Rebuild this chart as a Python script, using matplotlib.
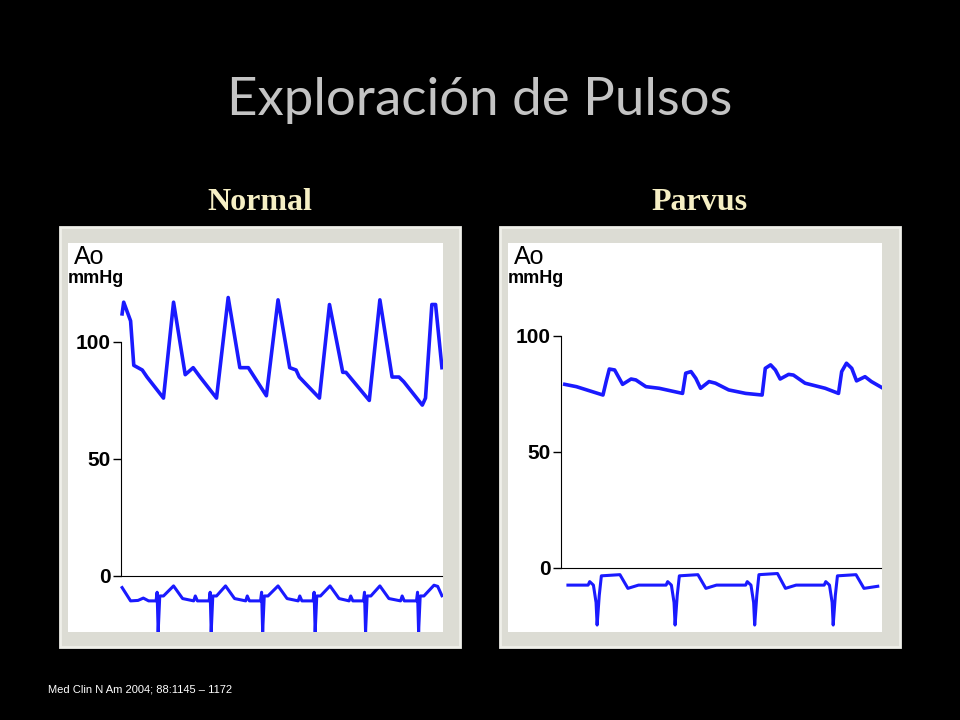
import matplotlib
matplotlib.use("Agg")
import matplotlib.pyplot as plt
from matplotlib.patches import Rectangle

# ---- data (time in s, pressure in mmHg) ----
normal_t = [0, 0.03, 0.16, 0.22, 0.38, 0.47, 0.78, 0.97, 1.19, 1.34, 1.47, 1.78, 2.0, 2.22, 2.38,
            2.72, 2.94, 3.16, 3.28, 3.34, 3.72, 3.91, 4.16, 4.22, 4.66, 4.86, 5.09, 5.22, 5.31,
            5.66, 5.72, 5.84, 5.91, 6.03]
normal_p = [112, 117, 109, 90, 88, 85, 76, 117, 86, 89, 85, 76, 119, 89, 89,
            77, 118, 89, 88, 85, 76, 116, 87, 87, 75, 118, 85, 85, 83,
            73, 76, 116, 116, 89]

normal_ecg_t = [0, 0.16, 0.3, 0.4, 0.5,
                0.64, 0.66, 0.68, 0.71, 0.78, 0.97, 1.14, 1.35, 1.38, 1.42,
                1.64, 1.66, 1.68, 1.71, 1.78, 1.95, 2.12, 2.33, 2.36, 2.40,
                2.61, 2.63, 2.65, 2.68, 2.75, 2.94, 3.11, 3.32, 3.35, 3.39,
                3.60, 3.62, 3.64, 3.67, 3.74, 3.92, 4.09, 4.28, 4.31, 4.35,
                4.55, 4.57, 4.59, 4.62, 4.69, 4.86, 5.03, 5.25, 5.28, 5.32,
                5.55, 5.57, 5.59, 5.62, 5.69, 5.88, 5.95, 6.03]
normal_ecg_v = [-5, -10.7, -10.5, -9.5, -10.7,
                -10.7, -7, -24, -8.6, -8.6, -4.3, -9.7, -10.7, -8.6, -10.7,
                -10.7, -7, -24, -8.6, -8.6, -4.3, -9.7, -10.7, -8.6, -10.7,
                -10.7, -7, -24, -8.6, -8.6, -4.3, -9.7, -10.7, -8.6, -10.7,
                -10.7, -7, -24, -8.6, -8.6, -4.3, -9.7, -10.7, -8.6, -10.7,
                -10.7, -7, -24, -8.6, -8.6, -4.3, -9.7, -10.7, -8.6, -10.7,
                -10.7, -7, -24, -8.6, -8.6, -4.0, -4.5, -8.5]

parvus_t = [0, 0.22, 0.72, 0.78, 0.84, 0.94, 1.09, 1.25, 1.34, 1.53, 1.78, 2.22, 2.28, 2.38, 2.47,
            2.56, 2.72, 2.84, 3.09, 3.41, 3.72, 3.78, 3.88, 3.97, 4.06, 4.22, 4.31, 4.53, 4.91,
            5.16, 5.22, 5.31, 5.41, 5.5, 5.66, 5.78, 5.97]
parvus_p = [79.0, 78.0, 74.4, 80.2, 85.6, 85.2, 79.0, 81.3, 80.9, 78.0, 77.3, 75.1, 83.8, 84.5, 81.6,
            77.3, 80.2, 79.5, 76.6, 75.1, 74.4, 85.9, 87.4, 85.2, 81.3, 83.3, 83.0, 79.5, 77.3,
            75.1, 84.5, 88.1, 85.9, 80.5, 82.3, 80.2, 77.7]

parvus_ecg_t = [0.06, 0.44, 0.47, 0.54, 0.59, 0.61, 0.65, 0.69, 1.04, 1.19, 1.39,
                1.91, 1.94, 2.01, 2.06, 2.08, 2.12, 2.16, 2.51, 2.66, 2.86,
                3.41, 3.44, 3.51, 3.56, 3.58, 3.62, 3.66, 4.01, 4.16, 4.36,
                4.89, 4.92, 4.99, 5.04, 5.06, 5.10, 5.14, 5.49, 5.64, 5.9]
parvus_ecg_v = [-7.5, -7.5, -6.0, -7.5, -15, -24.7, -12, -3.5, -3.0, -8.9, -7.5,
                -7.5, -6.0, -7.5, -15, -24.7, -12, -3.5, -3.0, -8.9, -7.5,
                -7.5, -6.0, -7.5, -15, -24.7, -12, -3.0, -2.5, -8.9, -7.5,
                -7.5, -6.0, -7.5, -15, -24.7, -12, -3.5, -3.0, -8.9, -8.0]

yticks = [0, 50, 100]

W, H = 960, 720
fig = plt.figure(figsize=(9.6, 7.2), dpi=100, facecolor="black")

def px(x0, y0, x1, y1):
    return [x0 / W, 1 - y1 / H, (x1 - x0) / W, (y1 - y0) / H]

# frames
for (x0, y0, x1, y1) in [(60, 227, 460, 647), (500, 227, 900, 647)]:
    fig.patches.append(Rectangle((x0 / W, 1 - y1 / H), (x1 - x0) / W, (y1 - y0) / H,
                                 transform=fig.transFigure, facecolor="#dcdcd4",
                                 edgecolor="#f0f0ea", lw=2, zorder=-10))

def panel(rect, xlim, ylim, ax0, xend, t, p, et, ev):
    ax = fig.add_axes(rect)
    ax.set_zorder(5)
    ax.set_facecolor("white")
    ax.set_xlim(*xlim)
    ax.set_ylim(*ylim)
    for s in ["top", "right"]:
        ax.spines[s].set_visible(False)
    ax.spines["left"].set_position(("data", ax0))
    ax.spines["left"].set_bounds(0, 100)
    ax.spines["bottom"].set_position(("data", 0))
    ax.spines["bottom"].set_bounds(ax0, xend)
    ax.set_xticks([])
    ax.set_yticks(yticks)
    ax.set_yticklabels([str(v) for v in yticks], fontfamily="Liberation Sans",
                       fontsize=15, fontweight="bold")
    ax.tick_params(axis="y", direction="out", length=6, width=1, pad=1)
    ax.plot(t, p, color="#1a1aff", lw=2.6, solid_joinstyle="round")
    ax.plot(et, ev, color="#1a1aff", lw=2.2, solid_joinstyle="round")
    ax.text(0.015, 0.995, "Ao", transform=ax.transAxes, ha="left", va="top",
            fontfamily="Liberation Sans", fontsize=18)
    ax.text(0.0, 0.93, "mmHg", transform=ax.transAxes, ha="left", va="top",
            fontfamily="Liberation Sans", fontsize=13, fontweight="bold")
    return ax

panel(px(68, 243, 443, 632), (-1.02, 6.05), (-24, 142.3), -0.03, 6.03,
      normal_t, normal_p, normal_ecg_t, normal_ecg_v)
panel(px(508, 243, 882, 632), (-1.07, 5.98), (-27.7, 139.9), -0.075, 5.97,
      parvus_t, parvus_p, parvus_ecg_t, parvus_ecg_v)

fig.text(480 / W, 1 - 100 / H, "Exploración de Pulsos", ha="center", va="center",
         fontfamily="Lato", fontsize=38, color="#c4c4c4")
fig.text(260 / W, 1 - 202 / H, "Normal", ha="center", va="center",
         fontfamily="Liberation Serif", fontweight="bold", fontsize=23, color="#f6efc4")
fig.text(700 / W, 1 - 202 / H, "Parvus", ha="center", va="center",
         fontfamily="Liberation Serif", fontweight="bold", fontsize=23, color="#f6efc4")
fig.text(48 / W, 1 - 690 / H, "Med Clin N Am 2004; 88:1145 \u2013 1172", ha="left", va="center",
         fontfamily="Liberation Sans", fontsize=8, color="white")

fig.savefig("out.png", dpi=100, facecolor="black")
